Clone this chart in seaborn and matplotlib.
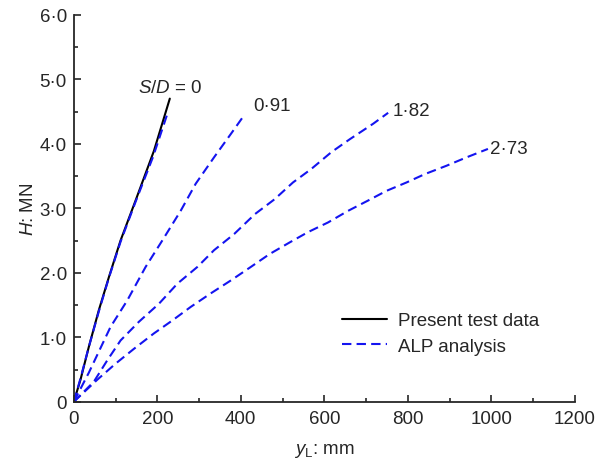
import numpy as np
import pandas as pd
import matplotlib
matplotlib.use('Agg')
import matplotlib.pyplot as plt
from matplotlib.ticker import MultipleLocator, FuncFormatter
import seaborn as sns

# values (y_L in mm, H in MN)
test_x = [0, 16, 36, 60, 84, 112, 148, 192, 230]
test_h = [0, 0.34, 0.85, 1.42, 1.93, 2.50, 3.12, 3.89, 4.70]

alp0_x = [0, 16, 36, 60, 84, 112, 148, 190, 226]
alp0_h = [0, 0.36, 0.85, 1.40, 1.92, 2.48, 3.10, 3.80, 4.50]

alp091_x = [0, 36, 88, 128, 172, 212, 256, 292, 336, 376, 410]
alp091_h = [0, 0.45, 1.16, 1.57, 2.09, 2.50, 2.96, 3.38, 3.79, 4.15, 4.46]

alp182_x = [0, 48, 80, 112, 156, 204, 248, 296, 336, 384, 434, 481, 525, 569, 617, 661, 717, 753]
alp182_h = [0, 0.31, 0.64, 0.95, 1.24, 1.52, 1.83, 2.09, 2.35, 2.60, 2.91, 3.14, 3.40, 3.61, 3.87, 4.07, 4.31, 4.48]

alp273_x = [0, 56, 100, 144, 192, 236, 280, 328, 376, 424, 469, 517, 561, 609, 657,
            705, 749, 797, 841, 893, 941, 992]
alp273_h = [0, 0.34, 0.59, 0.82, 1.06, 1.26, 1.47, 1.68, 1.88, 2.09, 2.29, 2.47, 2.63, 2.78, 2.96,
            3.12, 3.27, 3.40, 3.53, 3.66, 3.79, 3.92]

sd_labels = ['$\\mathit{S/D}$ = 0', '0·91', '1·82', '2·73']

sns.set_style('ticks')
plt.rcParams['font.family'] = ['Liberation Sans', 'DejaVu Sans']
plt.rcParams['mathtext.fontset'] = 'custom'
plt.rcParams['mathtext.rm'] = 'Liberation Sans'
plt.rcParams['mathtext.it'] = 'Liberation Sans:italic'
fs = 13.5
plt.rcParams['font.size'] = fs

fig = plt.figure(figsize=(5.95, 4.64), dpi=100)
ax = fig.add_axes([0.124, 0.132, 0.842, 0.834])

dash = (0, (4.5, 2.5))
sns.lineplot(x=test_x, y=test_h, ax=ax, color='black', lw=1.5,
             label='Present test data', sort=False)
blue_sets = [(alp0_x, alp0_h), (alp091_x, alp091_h),
             (alp182_x, alp182_h), (alp273_x, alp273_h)]
for i, (bx, bh) in enumerate(blue_sets):
    sns.lineplot(x=bx, y=bh, ax=ax, color='#1414f0', lw=1.5, linestyle=dash,
                 label='ALP analysis' if i == 0 else '_nolegend_', sort=False)

# curve labels
ax.text(230, 4.88, sd_labels[0], ha='center', va='center', fontsize=fs)
ax.text(429, 4.60, sd_labels[1], ha='left', va='center', fontsize=fs)
ax.text(763, 4.51, sd_labels[2], ha='left', va='center', fontsize=fs)
ax.text(998, 3.93, sd_labels[3], ha='left', va='center', fontsize=fs)

ax.set_xlim(0, 1200)
ax.set_ylim(0, 6)
ax.xaxis.set_major_locator(MultipleLocator(200))
ax.xaxis.set_minor_locator(MultipleLocator(100))
ax.yaxis.set_major_locator(MultipleLocator(1))
ax.yaxis.set_minor_locator(MultipleLocator(0.5))
ax.yaxis.set_major_formatter(FuncFormatter(
    lambda v, p: '0' if v == 0 else f'{v:.1f}'.replace('.', '·')))
ax.tick_params(which='major', direction='in', length=5, width=1.2, labelsize=fs)
ax.tick_params(which='minor', direction='in', length=3, width=1.2)
ax.tick_params(axis='x', which='major', pad=6)
ax.tick_params(axis='y', which='major', pad=5)
for s in ['left', 'bottom']:
    ax.spines[s].set_linewidth(1.3)
sns.despine(ax=ax)

ax.set_xlabel('$\\mathit{y}_\\mathrm{L}$: mm', fontsize=fs, labelpad=10)
ax.set_ylabel('$\\mathit{H}$: MN', fontsize=fs, labelpad=2)

ax.legend(loc='upper left', bbox_to_anchor=(0.535, 0.232), frameon=False,
          handlelength=2.4, handletextpad=0.6, fontsize=fs,
          borderaxespad=0, borderpad=0, labelspacing=0.45)

fig.savefig('out.png', dpi=100)
